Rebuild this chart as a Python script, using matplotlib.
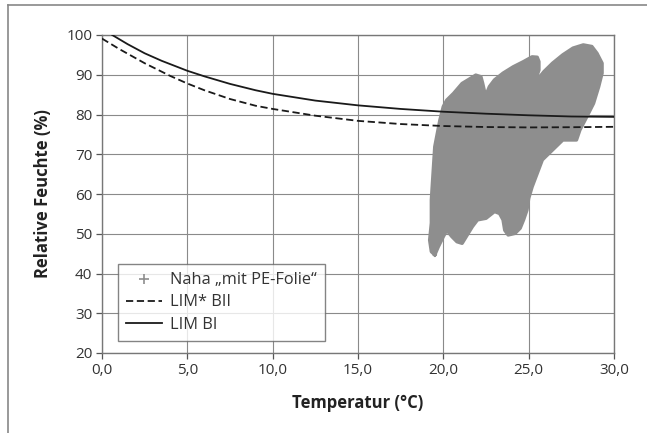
import matplotlib
matplotlib.use('Agg')
import matplotlib.pyplot as plt
from matplotlib.lines import Line2D

plt.rcParams['font.family'] = ['Open Sans', 'DejaVu Sans']

# LIM BI (solid) and LIM* BII (dashed) curves
lim_bi_t = [0.6, 1.5, 2.5, 3.5, 5, 6, 7.5, 9, 10, 12.5, 15, 17.5, 20, 22.5, 25, 27.5, 30]
lim_bi_rh = [100, 97.7, 95.4, 93.5, 91.0, 89.6, 87.7, 86.1, 85.2, 83.5, 82.3, 81.4, 80.7, 80.2, 79.8, 79.5, 79.4]
lim_bii_t = [0, 1, 2.5, 4, 5, 6, 7.5, 9, 10, 12.5, 15, 17.5, 20, 22.5, 25, 27.5, 30]
lim_bii_rh = [99.1, 96.5, 92.9, 89.7, 87.8, 86.1, 83.9, 82.2, 81.4, 79.7, 78.4, 77.6, 77.1, 76.85, 76.75, 76.8, 76.9]

# outline of the dense measurement cloud "Naha mit PE-Folie"
naha_t = [19.5, 19.3, 19.2, 19.3, 19.3, 19.4, 19.5, 19.8, 19.9, 20.0, 20.2, 20.6, 21.1,
          21.6, 21.9, 22.2, 22.3, 22.4, 22.5, 22.7, 23.0, 23.5, 24.1, 24.7, 25.2, 25.5,
          25.6, 25.6, 25.4, 25.2, 25.5, 25.9, 26.4, 27.0, 27.6, 28.2, 28.7, 29.0, 29.3,
          29.3, 29.1, 28.8, 28.4, 28.0, 27.8, 27.5, 27.0, 26.4, 25.8, 25.5, 25.2, 25.0,
          24.9, 24.7, 24.5, 24.2, 23.8, 23.6, 23.5, 23.3, 23.0, 22.5, 22.0, 21.7, 21.4,
          21.1, 20.8, 20.5, 20.2, 20.0, 19.7]
naha_rh = [44.7, 45.5, 48.4, 52.7, 58.5, 65.2, 71.9, 78.6, 80.3, 82.0, 83.6, 85.3, 87.8,
           89.1, 89.9, 89.5, 87.9, 86.0, 84.9, 87.0, 88.7, 90.4, 92.0, 93.3, 94.5, 94.4,
           93.3, 91.2, 88.7, 86.6, 88.7, 90.8, 92.9, 95.0, 96.7, 97.5, 97.1, 95.4, 92.9,
           90.4, 87.0, 82.8, 79.4, 76.1, 73.6, 73.6, 73.6, 71.1, 68.6, 65.2, 61.8, 58.9,
           56.0, 53.5, 51.4, 50.1, 49.7, 50.9, 53.5, 55.1, 55.6, 53.9, 53.5, 51.8, 49.7,
           47.6, 48.0, 49.3, 50.9, 49.3, 46.7]

xticks = [0, 5, 10, 15, 20, 25, 30]
yticks = [20, 30, 40, 50, 60, 70, 80, 90, 100]

fig = plt.figure(figsize=(6.47, 4.33), dpi=100)
ax = fig.add_axes([102 / 647, 1 - 353 / 433, 512 / 647, 318 / 433])

cloud = '#8e8e8e'
ax.fill(naha_t, naha_rh, color=cloud, zorder=2)
ax.plot(naha_t + naha_t[:1], naha_rh + naha_rh[:1], color=cloud, lw=2.5,
        solid_joinstyle='round', zorder=2)
ax.plot(lim_bii_t, lim_bii_rh, color='#1a1a1a', lw=1.3, dashes=(4, 2), zorder=3)
ax.plot(lim_bi_t, lim_bi_rh, color='#1a1a1a', lw=1.3, zorder=3)

ax.set_xlim(0, 30)
ax.set_ylim(20, 100)
ax.set_xticks(xticks)
ax.set_xticklabels([f'{t:.1f}'.replace('.', ',') for t in xticks])
ax.set_yticks(yticks)
ax.grid(True, color='#8a8a8a', lw=0.8)
ax.set_axisbelow(True)
for s in ax.spines.values():
    s.set_color('#777777')
    s.set_linewidth(1.0)
ax.tick_params(direction='out', length=4, width=0.9, color='#555555',
               labelsize=11, labelcolor='#333333', pad=3)

ax.set_xlabel('Temperatur (°C)', fontsize=12, fontweight='bold', color='#222222', labelpad=12)
ax.set_ylabel('Relative Feuchte (%)', fontsize=12, fontweight='bold', color='#222222', labelpad=10)

handles = [
    Line2D([], [], ls='none', marker='+', color=cloud, markersize=7, mew=1.2),
    Line2D([], [], color='#1a1a1a', lw=1.3, dashes=(4, 2)),
    Line2D([], [], color='#1a1a1a', lw=1.3),
]
labels = ['Naha \u201emit PE-Folie\u201c', 'LIM* BII', 'LIM BI']
leg = ax.legend(handles, labels, loc='lower left', bbox_to_anchor=(0.031, 0.038),
                fontsize=11.8, frameon=True, fancybox=False, borderpad=0.5,
                labelspacing=0.38, handlelength=2.2, handletextpad=0.5,
                borderaxespad=0)
leg.get_frame().set_edgecolor('#666666')
leg.get_frame().set_linewidth(1.0)
for t in leg.get_texts():
    t.set_color('#333333')

# outer frame of the figure
fig.add_artist(Line2D([8 / 647, 8 / 647], [0, 1 - 5 / 433], color='#888888', lw=1.2))
fig.add_artist(Line2D([8 / 647, 1], [1 - 5 / 433, 1 - 5 / 433], color='#888888', lw=1.2))

fig.savefig('out.png', dpi=100)
